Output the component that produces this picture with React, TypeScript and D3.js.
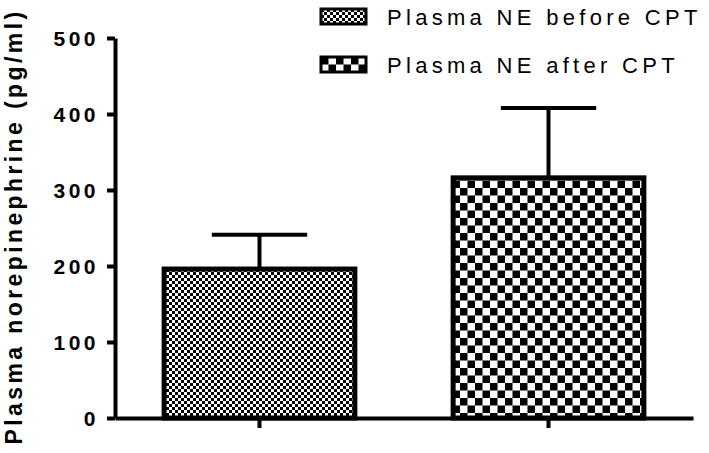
import React, { useRef, useEffect } from "react";
import * as d3 from "d3";

const CATEGORIES = ["Plasma NE before CPT", "Plasma NE after CPT"];
const MEANS = [196, 316];
const ERRORS = [45, 92];
const Y_TICKS = [0, 100, 200, 300, 400, 500];
const PATTERN_SIZES = [3, 7.5];

const FONT = "'Liberation Sans', Arial, sans-serif";

export default function App() {
  const svgRef = useRef<SVGSVGElement>(null);
  const width = 709;
  const height = 453;

  useEffect(() => {
    if (!svgRef.current) return;
    document.body.style.margin = "0";

    const svg = d3.select(svgRef.current);
    svg.selectAll("*").remove();

    const margin = { top: 38, right: 16, bottom: 35, left: 115 };
    const w = width - margin.left - margin.right;
    const h = height - margin.top - margin.bottom;

    // checker patterns
    const defs = svg.append("defs");
    PATTERN_SIZES.forEach((s, i) => {
      const p = defs
        .append("pattern")
        .attr("id", `checker${i}`)
        .attr("patternUnits", "userSpaceOnUse")
        .attr("width", s * 2)
        .attr("height", s * 2);
      p.append("rect").attr("width", s * 2).attr("height", s * 2).attr("fill", "#fff");
      p.append("rect").attr("width", s).attr("height", s).attr("fill", "#000");
      p.append("rect").attr("x", s).attr("y", s).attr("width", s).attr("height", s).attr("fill", "#000");
    });

    const g = svg
      .append("g")
      .attr("transform", `translate(${margin.left},${margin.top})`);

    const x = d3
      .scaleBand<string>()
      .domain(CATEGORIES)
      .range([0, w])
      .paddingInner(0.34)
      .paddingOuter(0.17);
    const y = d3.scaleLinear().domain([0, 500]).range([h, 0]);

    // bars
    CATEGORIES.forEach((c, i) => {
      const bx = x(c)!;
      const bw = x.bandwidth();
      const cx = bx + bw / 2;

      // error bar (upper only)
      g.append("line")
        .attr("x1", cx)
        .attr("x2", cx)
        .attr("y1", y(MEANS[i]))
        .attr("y2", y(MEANS[i] + ERRORS[i]))
        .attr("stroke", "#000")
        .attr("stroke-width", 4);
      g.append("line")
        .attr("x1", cx - bw / 4)
        .attr("x2", cx + bw / 4)
        .attr("y1", y(MEANS[i] + ERRORS[i]))
        .attr("y2", y(MEANS[i] + ERRORS[i]))
        .attr("stroke", "#000")
        .attr("stroke-width", 4);

      g.append("rect")
        .attr("x", bx)
        .attr("y", y(MEANS[i]))
        .attr("width", bw)
        .attr("height", y(0) - y(MEANS[i]))
        .attr("fill", `url(#checker${i})`)
        .attr("stroke", "#000")
        .attr("stroke-width", 5);
    });

    // Y axis
    const yAxis = g
      .append("g")
      .call(d3.axisLeft(y).tickValues(Y_TICKS).tickSize(8).tickPadding(8).tickSizeOuter(0));
    yAxis.select(".domain").attr("stroke-width", 4);
    yAxis.selectAll(".tick line").attr("stroke-width", 4);
    yAxis
      .selectAll("text")
      .style("font-family", FONT)
      .style("font-size", "21px")
      .style("font-weight", "bold")
      .style("letter-spacing", "3.5px")
      .attr("dy", "0.36em");

    // X axis
    const xAxis = g
      .append("g")
      .attr("transform", `translate(0,${h})`)
      .call(d3.axisBottom(x).tickSize(10).tickSizeOuter(0).tickFormat(() => ""));
    xAxis.select(".domain").attr("stroke-width", 4);
    xAxis.selectAll(".tick line").attr("stroke-width", 4);

    // Y title
    svg
      .append("text")
      .attr("transform", `translate(22,${height / 2}) rotate(-90)`)
      .attr("text-anchor", "middle")
      .style("font-family", FONT)
      .style("font-size", "23px")
      .style("font-weight", "bold")
      .style("letter-spacing", "3.4px")
      .text("Plasma norepinephrine (pg/ml)");

    // legend
    CATEGORIES.forEach((c, i) => {
      const lg = svg.append("g").attr("transform", `translate(321,${9 + i * 48})`);
      lg.append("rect")
        .attr("width", 45)
        .attr("height", 15)
        .attr("fill", `url(#checker${i})`)
        .attr("stroke", "#000")
        .attr("stroke-width", 3);
      lg.append("text")
        .attr("x", 66)
        .attr("y", 16)
        .style("font-family", FONT)
        .style("font-size", "22px")
        .style("letter-spacing", "4.3px")
        .style("fill", "#000")
        .text(c);
    });
  }, []);

  return <svg ref={svgRef} width={width} height={height} style={{ display: "block" }} />;
}
